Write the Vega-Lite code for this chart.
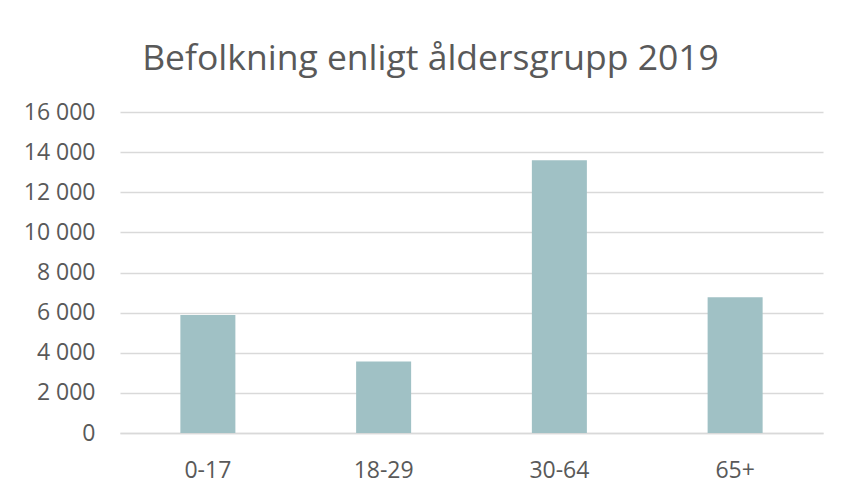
{
  "$schema": "https://vega.github.io/schema/vega-lite/v6.json",
  "width": 703,
  "height": 321,
  "padding": {"left": 20, "top": 41, "right": 20, "bottom": 10},
  "background": "white",
  "title": {
    "text": "Befolkning enligt åldersgrupp 2019",
    "font": "Open Sans",
    "fontSize": 35.5,
    "fontWeight": "normal",
    "color": "#595959",
    "anchor": "middle",
    "dx": -41,
    "offset": 24
  },
  "data": {
    "values": [
      {"group": "0-17", "value": 5880},
      {"group": "18-29", "value": 3560},
      {"group": "30-64", "value": 13590},
      {"group": "65+", "value": 6770}
    ]
  },
  "mark": {"type": "bar", "color": "#A0C1C5"},
  "encoding": {
    "x": {
      "field": "group",
      "type": "nominal",
      "sort": null,
      "title": null,
      "scale": {"paddingInner": 0.687, "paddingOuter": 0.3435},
      "axis": {
        "labelAngle": 0,
        "ticks": false,
        "domain": true,
        "domainColor": "#d9d9d9",
        "domainWidth": 1.5,
        "labelFont": "Open Sans",
        "labelFontSize": 23,
        "labelColor": "#595959",
        "labelPadding": 26
      }
    },
    "y": {
      "field": "value",
      "type": "quantitative",
      "title": null,
      "scale": {"domain": [0, 16000]},
      "axis": {
        "values": [0, 2000, 4000, 6000, 8000, 10000, 12000, 14000, 16000],
        "labelExpr": "replace(format(datum.value, ','), ',', ' ')",
        "ticks": false,
        "domain": false,
        "gridColor": "#d9d9d9",
        "gridWidth": 1.5,
        "labelFont": "Open Sans",
        "labelFontSize": 23,
        "labelColor": "#595959",
        "labelPadding": 25,
        "minExtent": 100,
        "maxExtent": 100
      }
    }
  },
  "config": {"view": {"stroke": null}}
}
